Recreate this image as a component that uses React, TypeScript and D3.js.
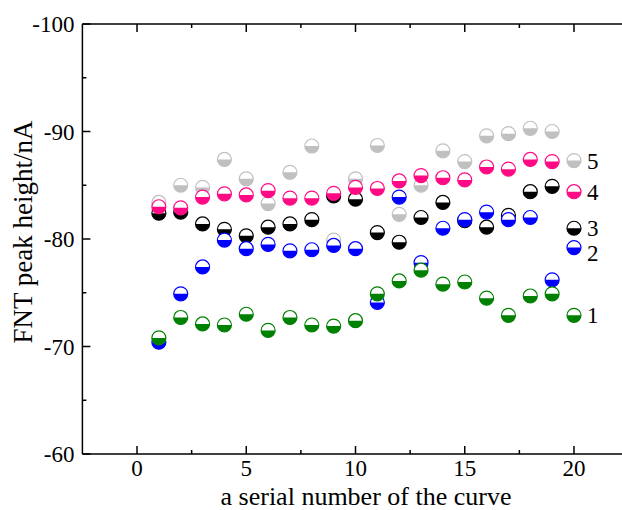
import * as d3 from 'd3';

const curveNumbers = [1, 2, 3, 4, 5, 6, 7, 8, 9, 10, 11, 12, 13, 14, 15, 16, 17, 18, 19, 20];

const series1 = [-70.8, -72.7, -72.1, -72.0, -73.0, -71.5, -72.7, -72.0, -71.9, -72.4, -74.9, -76.1, -77.1, -75.8, -76.0, -74.5, -72.9, -74.7, -74.9, -72.9];
const series2 = [-70.4, -74.9, -77.4, -79.9, -79.1, -79.5, -78.9, -79.0, -79.4, -79.1, -74.1, -83.9, -77.8, -81.0, -81.8, -82.5, -81.8, -82.0, -76.2, -79.2];
const series3 = [-82.4, -82.5, -81.4, -80.9, -80.3, -81.1, -81.4, -81.8, -84.0, -83.7, -80.6, -79.7, -82.0, -83.4, -81.7, -81.1, -82.2, -84.4, -84.9, -81.0];
const series4 = [-83.0, -82.9, -83.9, -84.2, -84.1, -84.5, -83.8, -83.8, -84.25, -84.8, -84.7, -85.4, -85.9, -85.7, -85.5, -86.7, -86.5, -87.4, -87.2, -84.4];
const series5 = [-83.4, -85.0, -84.8, -87.4, -85.6, -83.3, -86.2, -88.65, -79.9, -85.6, -88.7, -82.3, -85.0, -88.2, -87.2, -89.6, -89.8, -90.3, -90.0, -87.3];

const seriesNames = ['1', '2', '3', '4', '5'];
const xTicks = [0, 5, 10, 15, 20];
const xMinorTicks = [2.5, 7.5, 12.5, 17.5];
const yTicks = [-100, -90, -80, -70, -60];
const yMinorTicks = [-95, -85, -75, -65];

const WIDTH = 622;
const HEIGHT = 510;
const FONT = '"Liberation Serif", "Times New Roman", serif';
const R = 7;

// drawing order: gray, black, pink, blue, green
const layers = [
  { name: seriesNames[4], values: series5, color: '#c0c0c0' },
  { name: seriesNames[2], values: series3, color: '#000000' },
  { name: seriesNames[3], values: series4, color: '#ff0a85' },
  { name: seriesNames[1], values: series2, color: '#0000ff' },
  { name: seriesNames[0], values: series1, color: '#008000' }
];

const labelNudge: Record<string, number> = { '2': 5 };

export default function App() {
  const x = d3.scaleLinear().domain([-2.5, 22.5]).range([82.4, 628.6]);
  const y = d3.scaleLinear().domain([-100, -60]).range([24, 454]);
  const [x0, x1] = x.range();
  const [yTop, yBottom] = y.range();

  const lowerHalf = d3.arc()({
    innerRadius: 0,
    outerRadius: R,
    startAngle: Math.PI / 2,
    endAngle: (3 * Math.PI) / 2
  }) ?? '';

  const lastIndex = curveNumbers.length - 1;

  return (
    <svg
      width={WIDTH}
      height={HEIGHT}
      style={{ position: 'absolute', left: 0, top: 0, background: '#fff' }}
      fontFamily={FONT}
    >
      {/* frame */}
      <line x1={x0} x2={x1} y1={yBottom} y2={yBottom} stroke="#000" strokeWidth={1.5} />
      <line x1={x0} x2={x1} y1={yTop} y2={yTop} stroke="#000" strokeWidth={1.5} />
      <line x1={x0} x2={x0} y1={yTop} y2={yBottom} stroke="#000" strokeWidth={1.5} />

      {xTicks.map(t => (
        <g key={`xt${t}`}>
          <line x1={x(t)} x2={x(t)} y1={yBottom} y2={yBottom - 8} stroke="#000" strokeWidth={1.5} />
          <line x1={x(t)} x2={x(t)} y1={yTop} y2={yTop + 8} stroke="#000" strokeWidth={1.5} />
          <text x={x(t)} y={yBottom + 22} textAnchor="middle" fontSize={23}>
            {t}
          </text>
        </g>
      ))}
      {xMinorTicks.map(t => (
        <g key={`xm${t}`}>
          <line x1={x(t)} x2={x(t)} y1={yBottom} y2={yBottom - 4} stroke="#000" strokeWidth={1.5} />
          <line x1={x(t)} x2={x(t)} y1={yTop} y2={yTop + 4} stroke="#000" strokeWidth={1.5} />
        </g>
      ))}
      {yTicks.map(t => (
        <g key={`yt${t}`}>
          <line x1={x0} x2={x0 + 8} y1={y(t)} y2={y(t)} stroke="#000" strokeWidth={1.5} />
          <text x={x0 - 8} y={y(t)} dy="0.35em" textAnchor="end" fontSize={23}>
            {t}
          </text>
        </g>
      ))}
      {yMinorTicks.map(t => (
        <line key={`ym${t}`} x1={x0} x2={x0 + 4} y1={y(t)} y2={y(t)} stroke="#000" strokeWidth={1.5} />
      ))}

      <text x={366} y={505} textAnchor="middle" fontSize={26}>
        a serial number of the curve
      </text>
      <text
        transform={`translate(32, ${(yTop + yBottom) / 2 - 7}) rotate(-90)`}
        textAnchor="middle"
        fontSize={27}
      >
        FNT peak height/nA
      </text>

      {layers.map(layer => (
        <g key={layer.name}>
          {layer.values.map((v, i) => (
            <g key={i} transform={`translate(${x(curveNumbers[i])}, ${y(v)})`}>
              <circle r={R} fill="#fff" stroke={layer.color} strokeWidth={1.2} />
              <path d={lowerHalf} fill={layer.color} />
            </g>
          ))}
          <text
            x={x(curveNumbers[lastIndex]) + 13}
            y={y(layer.values[lastIndex]) + (labelNudge[layer.name] ?? 0)}
            dy="0.35em"
            fontSize={23}
          >
            {layer.name}
          </text>
        </g>
      ))}
    </svg>
  );
}
